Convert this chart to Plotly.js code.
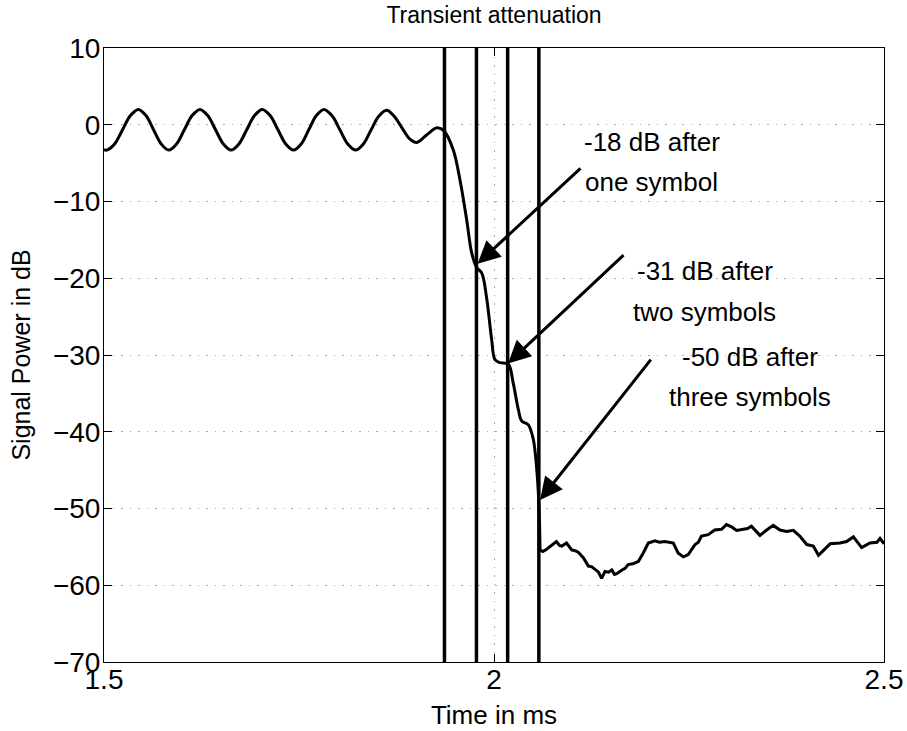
<!DOCTYPE html>
<html>
<head>
<meta charset="utf-8">
<script src="https://cdn.plot.ly/plotly-3.0.1.min.js"></script>
<style>html,body{margin:0;padding:0;background:#fff;}#chart{width:907px;height:731px;}</style>
</head>
<body>
<div id="chart"></div>
<script>
// Signal power before / during the transient (smooth part), time in ms, power in dB
const transientTime = [1.500, 1.5035, 1.5136, 1.5238, 1.5339, 1.544, 1.5538, 1.5635, 1.5733, 1.583, 1.593, 1.603, 1.613, 1.623, 1.633, 1.643, 1.653, 1.663, 1.673, 1.683, 1.693, 1.703, 1.713, 1.723, 1.733, 1.743, 1.7528, 1.7625, 1.7723, 1.782, 1.7922, 1.8024, 1.8125, 1.8227, 1.8326, 1.8425, 1.8525, 1.8624, 1.872, 1.882, 1.8915, 1.901, 1.914, 1.927, 1.936, 1.9478, 1.9564, 1.965, 1.9714, 1.9778, 1.9842, 1.9906, 1.997, 2.0013, 2.0077, 2.0183, 2.0247, 2.0312, 2.0355, 2.044, 2.0504, 2.0555, 2.058, 2.059];
const transientDb = [-3.25, -3.3, -2.5, -0.65, 1.2, 2.0, 1.2, -0.65, -2.5, -3.3, -2.5, -0.65, 1.2, 2.0, 1.2, -0.65, -2.5, -3.3, -2.5, -0.65, 1.2, 2.0, 1.2, -0.65, -2.5, -3.3, -2.5, -0.65, 1.2, 2.0, 1.2, -0.65, -2.5, -3.3, -2.5, -0.65, 1.15, 1.9, 1.1, -0.4, -1.8, -2.3, -1.3, -0.4, -0.8, -3.3, -7.2, -12.4, -16.7, -18.6, -19.3, -22.6, -28.0, -30.6, -31.0, -31.2, -33.7, -37.1, -38.6, -39.1, -41.0, -45.8, -50.6, -55.4];
// Residual noise floor after the transient
const noiseTime = [2.059, 2.0625, 2.0675, 2.073, 2.080, 2.084, 2.087, 2.093, 2.0965, 2.0996, 2.104, 2.108, 2.1145, 2.121, 2.1255, 2.1295, 2.134, 2.138, 2.1423, 2.147, 2.151, 2.1545, 2.1573, 2.1637, 2.168, 2.172, 2.178, 2.185, 2.1914, 2.1978, 2.2064, 2.212, 2.219, 2.2299, 2.236, 2.2427, 2.249, 2.2577, 2.262, 2.266, 2.2747, 2.283, 2.2917, 2.298, 2.3047, 2.311, 2.3197, 2.325, 2.330, 2.341, 2.3496, 2.358, 2.3667, 2.375, 2.3837, 2.392, 2.401, 2.4094, 2.416, 2.422, 2.431, 2.4436, 2.452, 2.4607, 2.4714, 2.482, 2.491, 2.4949, 2.5];
const noiseDb = [-55.4, -55.6, -55.3, -54.9, -54.3, -54.8, -54.9, -54.5, -55.0, -55.4, -55.5, -55.7, -56.4, -57.5, -57.6, -57.9, -58.3, -59.1, -58.2, -58.3, -58.0, -58.6, -58.5, -58.05, -57.8, -57.3, -57.2, -56.9, -55.8, -54.5, -54.2, -54.4, -54.3, -54.5, -55.8, -56.3, -56.0, -54.7, -54.4, -53.6, -53.4, -52.8, -52.7, -52.1, -52.4, -52.85, -52.7, -52.6, -52.3, -53.5, -52.8, -52.2, -52.8, -53.0, -52.85, -53.6, -54.7, -54.9, -56.1, -55.5, -54.6, -54.5, -54.3, -53.7, -55.1, -54.5, -54.4, -53.9, -54.6];
// Symbol boundaries (vertical markers), ms
const symbolBoundaries = [1.9365, 1.9775, 2.0175, 2.0575];
// Annotation labels and the points they refer to
const labelLines = [["-18 dB after", "one symbol"], ["-31 dB after", "two symbols"], ["-50 dB after", "three symbols"]];
const labelCenterX = [2.2025, 2.2705, 2.3285];
const labelLineY = [[-2.2, -7.5], [-19.1, -24.4], [-30.3, -35.5]];
const arrowHeadX = [1.979, 2.018, 2.059];
const arrowHeadY = [-18.1, -31.1, -48.9];
const arrowTailX = [2.1128, 2.168, 2.2026];
const arrowTailY = [-5.5, -16.8, -30.4];
// Axis ticks
const xTicks = [1.5, 2, 2.5];
const yTicks = [-70, -60, -50, -40, -30, -20, -10, 0, 10];

const FONT = '"Liberation Sans", Arial, Helvetica, sans-serif';

const traces = [
  {x: transientTime, y: transientDb, type: 'scatter', mode: 'lines',
   line: {color: '#000', width: 3, shape: 'spline', smoothing: 1}, hoverinfo: 'x+y'},
  {x: noiseTime, y: noiseDb, type: 'scatter', mode: 'lines',
   line: {color: '#000', width: 3}, hoverinfo: 'x+y'}
];

const shapes = symbolBoundaries.map(v => ({
  type: 'line', xref: 'x', yref: 'paper', x0: v, x1: v, y0: 0, y1: 1,
  line: {color: '#000', width: 3.5}
}));

const annotations = [];
labelLines.forEach((lines, i) => {
  lines.forEach((t, j) => {
    annotations.push({x: labelCenterX[i], y: labelLineY[i][j], xref: 'x', yref: 'y',
      text: t, showarrow: false, xanchor: 'center', yanchor: 'middle',
      font: {family: FONT, size: 26, color: '#000'}});
  });
  annotations.push({x: arrowHeadX[i], y: arrowHeadY[i], xref: 'x', yref: 'y',
    ax: arrowTailX[i], ay: arrowTailY[i], axref: 'x', ayref: 'y',
    text: '', showarrow: true, arrowhead: 2, arrowsize: 1.5, arrowwidth: 3, arrowcolor: '#000'});
});

const layout = {
  width: 907, height: 731,
  margin: {l: 104, r: 23, t: 48, b: 69},
  paper_bgcolor: '#fff', plot_bgcolor: '#fff',
  showlegend: false,
  font: {family: FONT, color: '#000'},
  title: {text: 'Transient attenuation', font: {family: FONT, size: 23, color: '#000'},
          x: 0.5, xref: 'paper', y: 1 - 15/731, yref: 'container', yanchor: 'middle'},
  xaxis: {range: [1.5, 2.5], tickvals: xTicks, ticktext: xTicks.map(String),
          ticks: 'inside', ticklen: 8, tickcolor: '#000', tickwidth: 1,
          showline: true, linecolor: '#000', linewidth: 1, mirror: 'ticks',
          showgrid: true, gridcolor: '#aaa', griddash: '1.5px,7px', gridwidth: 1,
          zeroline: false, tickfont: {size: 28, color: '#000'}, ticklabelstandoff: -8,
          title: {text: 'Time in ms', font: {size: 26, color: '#000'}, standoff: 12}},
  yaxis: {range: [-70, 10], tickvals: yTicks,
          ticks: 'inside', ticklen: 8, tickcolor: '#000', tickwidth: 1,
          showline: true, linecolor: '#000', linewidth: 1, mirror: 'ticks',
          showgrid: true, gridcolor: '#aaa', griddash: '1.5px,7px', gridwidth: 1,
          zeroline: false, tickfont: {size: 28, color: '#000'}, ticklabelstandoff: -3,
          title: {text: 'Signal Power in dB', font: {size: 25, color: '#000'}, standoff: 15}},
  shapes: shapes,
  annotations: annotations
};

Plotly.newPlot('chart', traces, layout, {displayModeBar: false, staticPlot: true});
</script>
</body>
</html>
